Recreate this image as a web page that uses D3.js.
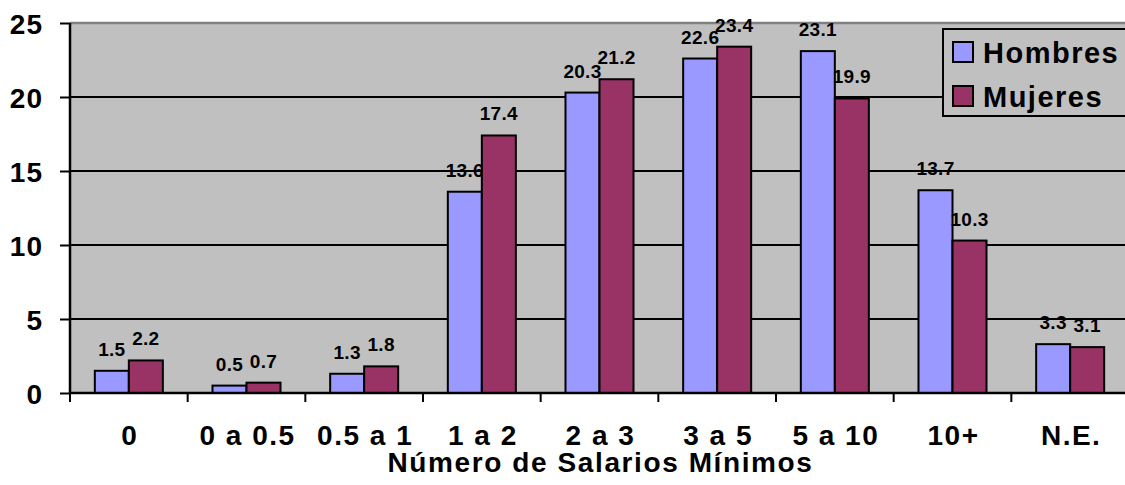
<!DOCTYPE html>
<html>
  <head>
    <meta http-equiv="Content-Type" content="text/html;charset=utf-8">
    <title>Salarios minimos por sexo</title>
    <script type="text/javascript" src="https://d3js.org/d3.v7.min.js"></script>
    <style>
	    html, body {
		    margin: 0;
		    padding: 0;
		    background: #ffffff;
	    }
	    text {
		    font-family: "Liberation Sans", Arial, sans-serif;
		    font-weight: bold;
		    fill: #000000;
	    }
	    .axis path { display: none; }
	    .axis line { stroke: #000000; stroke-width: 2px; }
	    .grid line { stroke: #000000; stroke-width: 2px; }
	    .bar { stroke: #000000; stroke-width: 2px; }
    </style>
  </head>
  <body>

	<script type="text/javascript">

// data
var categories = ["0", "0 a 0.5", "0.5 a 1", "1 a 2", "2 a 3", "3 a 5", "5 a 10", "10+", "N.E."];
var series = ["Hombres", "Mujeres"];
var hombres = [1.5, 0.5, 1.3, 13.6, 20.3, 22.6, 23.1, 13.7, 3.3];
var mujeres = [2.2, 0.7, 1.8, 17.4, 21.2, 23.4, 19.9, 10.3, 3.1];
var yTicks = [0, 5, 10, 15, 20, 25];
var xTitle = "Número de Salarios Mínimos";

var colors = { Hombres: "#9999ff", Mujeres: "#993366" };

var width = 1125, height = 485;
var plotLeft = 70, plotTop = 23, plotBottom = 393, plotRight = 1129;

var svg = d3.select("body").append("svg")
	.attr("width", width)
	.attr("height", height);

var x0 = d3.scaleBand()
	.domain(categories)
	.range([plotLeft, plotRight])
	.padding(0);

var x1 = d3.scaleBand()
	.domain(series)
	.range([0, x0.bandwidth()])
	.paddingInner(0)
	.paddingOuter(0.73);

var y = d3.scaleLinear()
	.domain([0, 25])
	.range([plotBottom, plotTop]);

// plot background
svg.append("rect")
	.attr("x", plotLeft)
	.attr("y", plotTop)
	.attr("width", plotRight - plotLeft)
	.attr("height", plotBottom - plotTop)
	.attr("fill", "#c0c0c0");

// gridlines
svg.append("g")
	.attr("class", "grid")
	.selectAll("line")
	.data(yTicks.filter(function(d){ return d > 0 && d < 25; }))
	.enter().append("line")
	.attr("x1", plotLeft)
	.attr("x2", plotRight)
	.attr("y1", function(d){ return y(d); })
	.attr("y2", function(d){ return y(d); });

// top border of plot area
svg.append("line")
	.attr("x1", plotLeft).attr("x2", plotRight)
	.attr("y1", y(25)).attr("y2", y(25))
	.attr("stroke", "#808080")
	.attr("stroke-width", 2.5);

// bars + labels, one series after the other
var seriesData = { Hombres: hombres, Mujeres: mujeres };

series.forEach(function(s) {
	var vals = seriesData[s];
	var g = svg.append("g");
	g.selectAll("rect")
		.data(vals)
		.enter().append("rect")
		.attr("class", "bar")
		.attr("x", function(d, i){ return x0(categories[i]) + x1(s); })
		.attr("y", function(d){ return y(d); })
		.attr("width", x1.bandwidth())
		.attr("height", function(d){ return y(0) - y(d); })
		.attr("fill", colors[s]);

	g.selectAll("text")
		.data(vals)
		.enter().append("text")
		.attr("x", function(d, i){ return x0(categories[i]) + x1(s) + x1.bandwidth() / 2; })
		.attr("y", function(d){ return y(d) - 15; })
		.attr("text-anchor", "middle")
		.attr("font-size", "19px")
		.attr("letter-spacing", "0.3px")
		.text(function(d){ return d.toFixed(1); });
});

// y axis
var yAxis = d3.axisLeft(y).tickValues(yTicks).tickSize(10).tickPadding(17);
svg.append("g")
	.attr("class", "axis y")
	.attr("transform", "translate(" + plotLeft + ",0)")
	.call(yAxis)
	.selectAll("text")
	.attr("font-size", "28px")
	.attr("letter-spacing", "1px")
	.attr("dy", "0.36em");

svg.append("line")
	.attr("x1", plotLeft).attr("x2", plotLeft)
	.attr("y1", plotTop).attr("y2", plotBottom)
	.attr("stroke", "#000000")
	.attr("stroke-width", 2.5);

// x axis: ticks at band edges
svg.append("line")
	.attr("x1", plotLeft).attr("x2", plotRight)
	.attr("y1", plotBottom).attr("y2", plotBottom)
	.attr("stroke", "#000000")
	.attr("stroke-width", 2.5);

svg.append("g")
	.attr("class", "axis x")
	.selectAll("line")
	.data(categories)
	.enter().append("line")
	.attr("x1", function(d){ return x0(d); })
	.attr("x2", function(d){ return x0(d); })
	.attr("y1", plotBottom)
	.attr("y2", plotBottom + 9);

svg.append("g")
	.selectAll("text")
	.data(categories)
	.enter().append("text")
	.attr("x", function(d){ return x0(d) + x0.bandwidth() / 2 + 1; })
	.attr("y", 445)
	.attr("text-anchor", "middle")
	.attr("font-size", "28px")
	.attr("letter-spacing", "1.5px")
	.text(function(d){ return d; });

svg.append("text")
	.attr("x", (plotLeft + plotRight) / 2 + 1)
	.attr("y", 472)
	.attr("text-anchor", "middle")
	.attr("font-size", "28px")
	.attr("letter-spacing", "1.6px")
	.text(xTitle);

// legend
var legend = svg.append("g").attr("class", "legend");
legend.append("rect")
	.attr("x", 943)
	.attr("y", 29)
	.attr("width", 200)
	.attr("height", 87)
	.attr("fill", "#c0c0c0")
	.attr("stroke", "#000000")
	.attr("stroke-width", 2);

var items = legend.selectAll("g.item")
	.data(series)
	.enter().append("g")
	.attr("class", "item")
	.attr("transform", function(d, i){ return "translate(953," + (42 + i * 44) + ")"; });

items.append("rect")
	.attr("width", 20)
	.attr("height", 20)
	.attr("fill", function(d){ return colors[d]; })
	.attr("stroke", "#000000")
	.attr("stroke-width", 2);

items.append("text")
	.attr("x", 30)
	.attr("y", 20.5)
	.attr("font-size", "29px")
	.attr("letter-spacing", "1.5px")
	.text(function(d){ return d; });

	</script>
  </body>
</html>
